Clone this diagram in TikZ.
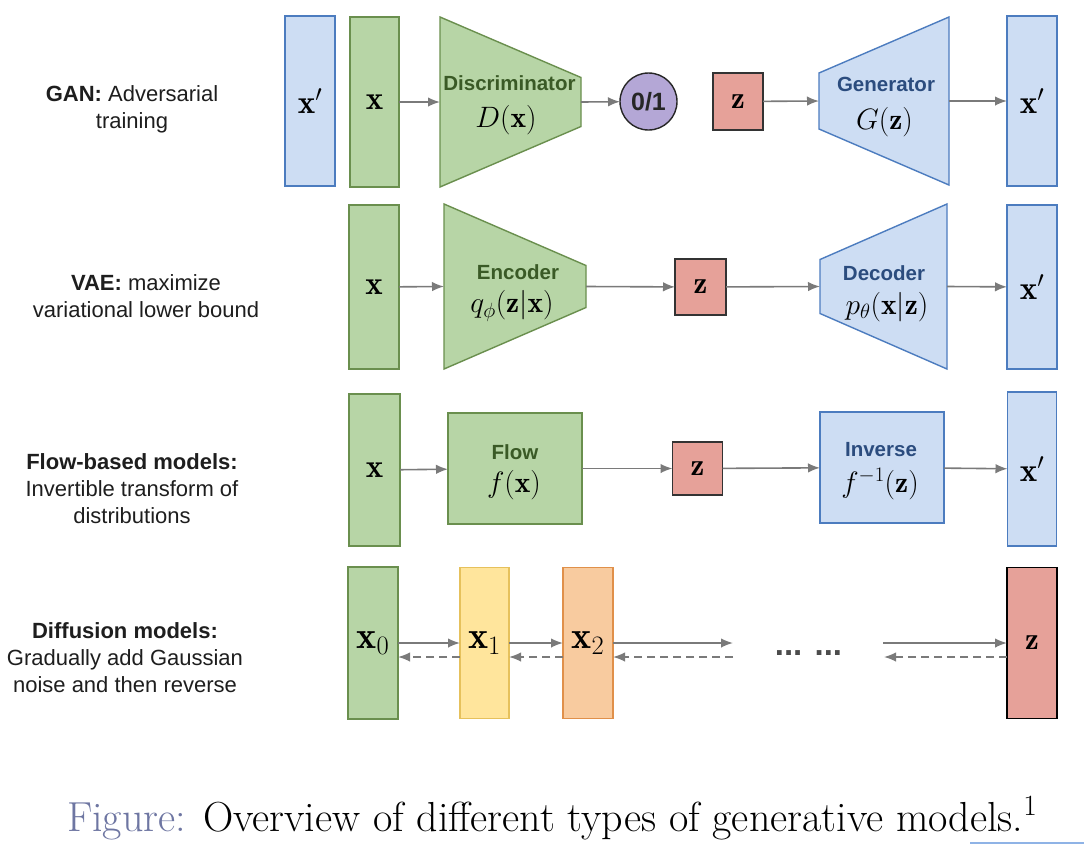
\RequirePackage{fix-cm}
\documentclass[tikz,border=0pt]{standalone}
\usepackage{fontspec}
\newfontfamily\arialfont{Liberation Sans}
\usetikzlibrary{arrows.meta,calc}
\definecolor{gfill}{HTML}{B7D5A6}
\definecolor{gline}{HTML}{6A8F4E}
\definecolor{gtext}{HTML}{3A5A26}
\definecolor{bfill}{HTML}{CDDDF3}
\definecolor{bline}{HTML}{4C7CBF}
\definecolor{btext}{HTML}{2B4C7E}
\definecolor{rfill}{HTML}{E6A199}
\definecolor{rline}{HTML}{333333}
\definecolor{pfill}{HTML}{B4A7D6}
\definecolor{yfill}{HTML}{FFE59C}
\definecolor{yline}{HTML}{E6C15C}
\definecolor{ofill}{HTML}{F8CB9F}
\definecolor{oline}{HTML}{E0904A}
\definecolor{agray}{HTML}{7A7A7A}
\definecolor{lbltext}{HTML}{1E1E1E}
\definecolor{capblue}{HTML}{6E76A2}
\definecolor{stripblue}{HTML}{8FB3E6}
\begin{document}
\begin{tikzpicture}[x=1pt,y=-1pt,
  base/.style={inner sep=0pt, outer sep=0pt, line width=1.4pt},
  gbox/.style={base, draw=gline, fill=gfill},
  bbox/.style={base, draw=bline, fill=bfill},
  rbox/.style={base, draw=rline, fill=rfill},
  ybox/.style={base, draw=yline, fill=yfill},
  obox/.style={base, draw=oline, fill=ofill},
  holder/.style={inner sep=0pt, outer sep=0pt},
  mtxt/.style={font=\fontsize{33}{36}\selectfont},
  ztxt/.style={font=\fontsize{31}{34}\selectfont},
  dtxt/.style={font=\fontsize{38}{40}\selectfont},
  ftxt/.style={inner sep=0pt, font=\fontsize{29.5}{32}\selectfont},
  gname/.style={inner sep=0pt, font=\arialfont\bfseries\fontsize{20.5}{24}\selectfont, text=gtext},
  bname/.style={inner sep=0pt, font=\arialfont\bfseries\fontsize{20.5}{24}\selectfont, text=btext},
  lbl/.style={inner sep=0pt, anchor=base, font=\arialfont\fontsize{22}{27}\selectfont, text=lbltext},
  arr/.style={draw=agray, line width=1.6pt, -{Latex[length=12pt,width=9.5pt]}},
  darr/.style={arr, dash pattern=on 8pt off 5pt},
]
\fill[white] (0,0) rectangle (1084,844);
\useasboundingbox (0,0) rectangle (1084,844);

% ---------- left labels ----------
\node[lbl] (labGAN) at (132,101) {\begin{tabular}[t]{@{}c@{}}\textbf{GAN:} Adversarial\\ training\end{tabular}};
\node[lbl] (labVAE) at (146,290) {\begin{tabular}[t]{@{}c@{}}\textbf{VAE:} maximize\\ variational lower bound\end{tabular}};
\node[lbl] (labFlow) at (132,469) {\begin{tabular}[t]{@{}c@{}}\textbf{Flow-based models:}\\ Invertible transform of\\ distributions\end{tabular}};
\node[lbl] (labDiff) at (125,638) {\begin{tabular}[t]{@{}c@{}}\textbf{Diffusion models:}\\ Gradually add Gaussian\\ noise and then reverse\end{tabular}};

% ---------- GAN row ----------
\node[bbox, minimum width=50pt, minimum height=170pt, mtxt] (gxp) at (310,101) {$\mathbf{x}'$};
\node[gbox, minimum width=49pt, minimum height=170pt, mtxt] (gx) at (374.5,102) {$\mathbf{x}$};
\node[holder, minimum width=141pt, minimum height=170pt] (disc) at (510.5,102) {};
\filldraw[gbox] (disc.north west) -- (disc.south west) -- ($(disc.east)+(0,24.5)$) -- ($(disc.east)+(0,-24.5)$) -- cycle;
\node[gname] (discN) at (509.5,83) {Discriminator};
\node[ftxt] (discM) at (506,120) {$D(\mathbf{x})$};
\node[circle, draw=black!85, fill=pfill, line width=1.4pt, minimum size=57pt, inner sep=0pt, outer sep=0pt,
      font=\arialfont\bfseries\fontsize{25}{28}\selectfont, text=black!85] (out) at (648.5,101.5) {0/1};
\node[rbox, minimum width=50pt, minimum height=57pt, ztxt] (gz) at (738,101.5) {$\mathbf{z}$};
\node[holder, minimum width=130pt, minimum height=168pt] (gen) at (884,101) {};
\filldraw[bbox] ($(gen.west)+(0,-28)$) -- ($(gen.west)+(0,28)$) -- (gen.south east) -- (gen.north east) -- cycle;
\node[bname] (genN) at (886,84) {Generator};
\node[ftxt] (genM) at (884.5,122) {$G(\mathbf{z})$};
\node[bbox, minimum width=50pt, minimum height=170pt, mtxt] (gxp2) at (1032,101) {$\mathbf{x}'$};
\draw[arr] (gx) -- (disc.west);
\draw[arr] (disc.east) -- (out);
\draw[arr] (gz) -- (gen.west);
\draw[arr] (gen.east) -- (gxp2);

% ---------- VAE row ----------
\node[gbox, minimum width=50pt, minimum height=164pt, mtxt] (vx) at (374,287) {$\mathbf{x}$};
\node[holder, minimum width=142pt, minimum height=165pt] (enc) at (515,286.5) {};
\filldraw[gbox] (enc.north west) -- (enc.south west) -- ($(enc.east)+(0,21)$) -- ($(enc.east)+(0,-21)$) -- cycle;
\node[gname] (encN) at (518,272) {Encoder};
\node[ftxt] (encM) at (512,306) {$q_\phi(\mathbf{z}|\mathbf{x})$};
\node[rbox, minimum width=51pt, minimum height=56pt, ztxt] (vz) at (700.5,287) {$\mathbf{z}$};
\node[holder, minimum width=127pt, minimum height=165pt] (dec) at (883.5,286.5) {};
\filldraw[bbox] ($(dec.west)+(0,-27)$) -- ($(dec.west)+(0,27)$) -- (dec.south east) -- (dec.north east) -- cycle;
\node[bname] (decN) at (884,273) {Decoder};
\node[ftxt] (decM) at (887,307) {$p_\theta(\mathbf{x}|\mathbf{z})$};
\node[bbox, minimum width=50pt, minimum height=164pt, mtxt] (vxp) at (1032,287) {$\mathbf{x}'$};
\draw[arr] (vx) -- (enc.west);
\draw[arr] (enc.east) -- (vz);
\draw[arr] (vz) -- (dec.west);
\draw[arr] (dec.east) -- (vxp);

% ---------- Flow row ----------
\node[gbox, minimum width=51pt, minimum height=152pt, mtxt] (fx) at (374.5,470) {$\mathbf{x}$};
\node[gbox, minimum width=134pt, minimum height=111pt] (flow) at (515,468.5) {};
\node[gname] (flowN) at (515,452) {Flow};
\node[ftxt] (flowM) at (514,485) {$f(\mathbf{x})$};
\node[rbox, minimum width=50pt, minimum height=53pt, ztxt] (fz) at (697.5,468.5) {$\mathbf{z}$};
\node[bbox, minimum width=124pt, minimum height=111pt] (inv) at (882,467.5) {};
\node[bname] (invN) at (881,450) {Inverse};
\node[ftxt] (invM) at (880,484) {$f^{-1}(\mathbf{z})$};
\node[bbox, minimum width=49pt, minimum height=154pt, mtxt] (fxp) at (1032,469) {$\mathbf{x}'$};
\draw[arr] (fx) -- (flow);
\draw[arr] (flow) -- (fz);
\draw[arr] (fz) -- (inv);
\draw[arr] (inv) -- (fxp);

% ---------- Diffusion row ----------
\node[gbox, minimum width=50pt, minimum height=152pt, dtxt] (d0) at (373,643) {$\mathbf{x}_0$};
\node[ybox, minimum width=49pt, minimum height=151pt, dtxt] (d1) at (484.5,643) {$\mathbf{x}_1$};
\node[obox, minimum width=50pt, minimum height=151pt, dtxt] (d2) at (588,643) {$\mathbf{x}_2$};
\node[base, draw=black, fill=rfill, minimum width=50pt, minimum height=151pt, ztxt] (dz) at (1032,643) {$\mathbf{z}$};
\node[inner sep=0pt, anchor=base, font=\arialfont\bfseries\fontsize{33}{33}\selectfont, text=black!70] (dots) at (808.5,655) {... ...};
\coordinate (dA) at (733,643);
\coordinate (dB) at (733,657);
\coordinate (dC) at (883,643);
\coordinate (dD) at (884,657);
\draw[arr] (d0) -- (d1);
\draw[arr] (d1) -- (d2);
\draw[arr] (d2) -- (dA);
\draw[arr] (dC) -- (dz);
\draw[darr] ([yshift=-14pt]d1.west) -- ([yshift=-14pt]d0.east);
\draw[darr] ([yshift=-14pt]d2.west) -- ([yshift=-14pt]d1.east);
\draw[darr] (dB) -- ([yshift=-14pt]d2.east);
\draw[darr] ([yshift=-14pt]dz.west) -- (dD);

% ---------- caption ----------
\node[inner sep=0pt, anchor=base west, font=\fontsize{42}{44}\selectfont] (cap) at (67,831)
  {\textcolor{capblue}{Figure:} Overview of different types of generative models.$^{1}$};
\fill[stripblue] (970,841.5) rectangle (1084,844);
\end{tikzpicture}
\end{document}
